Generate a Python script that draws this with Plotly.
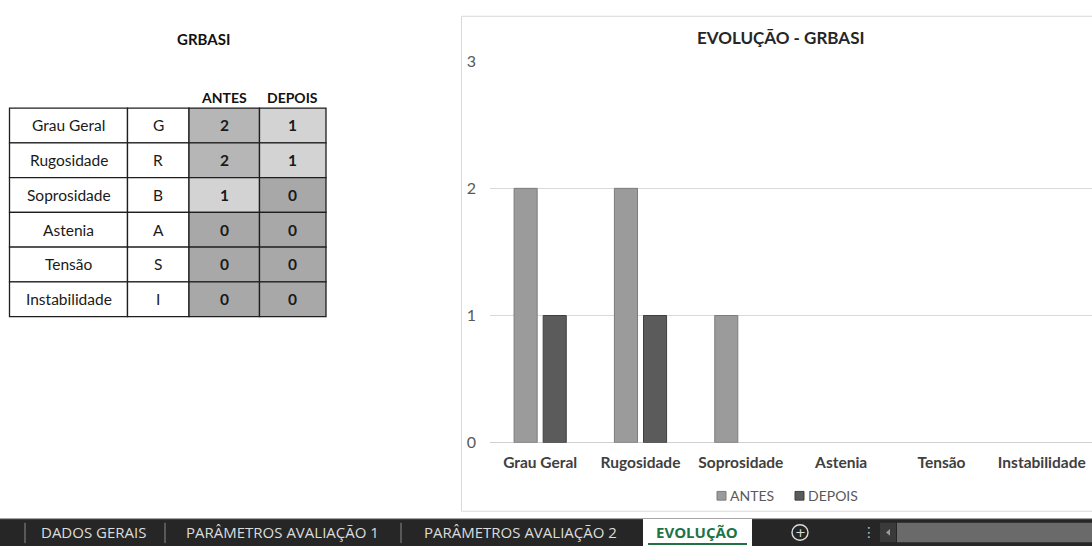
import plotly.graph_objects as go

W, H = 1092, 555

# ---- data ----
categories = ["Grau Geral", "Rugosidade", "Soprosidade", "Astenia", "Tensão", "Instabilidade"]
codes = ["G", "R", "B", "A", "S", "I"]
series_names = ["ANTES", "DEPOIS"]
antes = [2, 2, 1, 0, 0, 0]
depois = [1, 1, 0, 0, 0, 0]
y_ticks = [0, 1, 2, 3]
table_title = "GRBASI"
chart_title = "EVOLUÇÃO - GRBASI"
sheet_tabs = ["DADOS GERAIS", "PARÂMETROS AVALIAÇÃO 1", "PARÂMETROS AVALIAÇÃO 2", "EVOLUÇÃO"]
active_tab = "EVOLUÇÃO"

# ---- styling ----
FONT = "Lato"
TAB_FONT = "Open Sans"
bar_fill = ["#9b9b9b", "#5b5b5b"]
bar_edge = ["#7c7c7c", "#3f3f3f"]
bar_offset = [-0.26, 0.03]   # in category units, bars 0.23 wide with a small gap
bar_width = 0.23
value_fill = {2: "#b6b6b6", 1: "#d3d3d3", 0: "#a8a8a8"}


def px(x):
    return x / W


def py(y):
    return 1 - y / H


fig = go.Figure()

# ---- bar chart ----
for name, vals, fc, ec, off in zip(series_names, [antes, depois], bar_fill, bar_edge, bar_offset):
    fig.add_trace(go.Bar(
        x=categories, y=vals, name=name,
        width=bar_width, offset=off,
        marker=dict(color=fc, line=dict(color=ec, width=[1 if v else 0 for v in vals])),
        xaxis="x", yaxis="y", showlegend=False, hoverinfo="x+y+name",
    ))

# invisible helper trace so the table axes exist
fig.add_trace(go.Scatter(x=[0], y=[0], xaxis="x2", yaxis="y2", mode="markers",
                         marker=dict(opacity=0), showlegend=False, hoverinfo="skip"))

shapes = []
annotations = []

# chart frame
shapes.append(dict(type="rect", xref="paper", yref="paper",
                   x0=px(461.5), x1=1.02, y0=py(519), y1=py(6.5),
                   line=dict(color="#d9d9d9", width=1), fillcolor="rgba(0,0,0,0)", layer="below"))

annotations.append(dict(text="<b>%s</b>" % chart_title, xref="paper", yref="paper",
                        x=px(781), y=py(28), showarrow=False, xanchor="center", yanchor="middle",
                        font=dict(family=FONT, size=17, color="#262626")))

# legend drawn beside the bars
legend_x = [717, 795]
for name, fc, ec, lx in zip(series_names, bar_fill, bar_edge, legend_x):
    shapes.append(dict(type="rect", xref="paper", yref="paper",
                       x0=px(lx), x1=px(lx + 9), y0=py(507.5), y1=py(498.5),
                       fillcolor=fc, line=dict(color=ec, width=1)))
    annotations.append(dict(text=name, xref="paper", yref="paper", x=px(lx + 11), y=py(503),
                            showarrow=False, xanchor="left", yanchor="middle",
                            font=dict(family=FONT, size=14, color="#595959")))

# ---- table (x2/y2 axes run in pixel units, y downward) ----
col_edges = [9.5, 127.5, 189, 259.5, 326]
table_top = 101.5
row_h = 36

annotations.append(dict(text="<b>%s</b>" % table_title, xref="x2", yref="y2", x=203, y=30,
                        showarrow=False, font=dict(family=FONT, size=15, color="#111111")))
for j, name in enumerate(series_names):
    cx = (col_edges[j + 2] + col_edges[j + 3]) / 2
    annotations.append(dict(text="<b>%s</b>" % name, xref="x2", yref="y2", x=cx, y=91,
                            showarrow=False, font=dict(family=FONT, size=14, color="#111111")))

for i, (cat, code, a, d) in enumerate(zip(categories, codes, antes, depois)):
    y0 = table_top + i * row_h
    y1 = y0 + row_h
    cells = [(cat, "#ffffff", False), (code, "#ffffff", False),
             (str(a), value_fill[a], True), (str(d), value_fill[d], True)]
    for j, (txt, fill, bold) in enumerate(cells):
        x0, x1 = col_edges[j], col_edges[j + 1]
        shapes.append(dict(type="rect", xref="x2", yref="y2", x0=x0, x1=x1, y0=y0, y1=y1,
                           fillcolor=fill, line=dict(color="#1e1e1e", width=1.3), layer="below"))
        annotations.append(dict(text=("<b>%s</b>" % txt) if bold else txt, xref="x2", yref="y2",
                                x=(x0 + x1) / 2, y=(y0 + y1) / 2, showarrow=False,
                                xanchor="center", yanchor="middle",
                                font=dict(family=FONT, size=15.5, color="#1a1a1a")))

# ---- sheet tab bar ----
shapes.append(dict(type="rect", xref="paper", yref="paper", x0=0, x1=1, y0=0, y1=py(527),
                   fillcolor="#262626", line=dict(width=0), layer="above"))
shapes.append(dict(type="line", xref="paper", yref="paper", x0=0, x1=1, y0=py(527), y1=py(527),
                   line=dict(color="#5a5a5a", width=1), layer="above"))
tab_centers = [93.5, 282, 520, 697]
separators = [25, 165, 401]
for sx in separators:
    shapes.append(dict(type="line", xref="paper", yref="paper", x0=px(sx), x1=px(sx),
                       y0=py(552), y1=py(531), line=dict(color="#8a8a8a", width=1), layer="above"))
# active tab
shapes.append(dict(type="rect", xref="paper", yref="paper", x0=px(643), x1=px(752),
                   y0=0, y1=py(527), fillcolor="#ffffff", line=dict(width=0), layer="above"))
shapes.append(dict(type="line", xref="paper", yref="paper", x0=px(648), x1=px(747),
                   y0=py(553), y1=py(553), line=dict(color="#217346", width=2), layer="above"))
for name, cx in zip(sheet_tabs, tab_centers):
    is_active = name == active_tab
    annotations.append(dict(text=("<b>%s</b>" % name) if is_active else name,
                            xref="paper", yref="paper", x=px(cx), y=py(541), showarrow=False,
                            xanchor="center", yanchor="middle",
                            font=dict(family=TAB_FONT, size=15,
                                      color="#217346" if is_active else "#dcdcdc")))
# new-sheet button, menu dots and scroll bar
shapes.append(dict(type="circle", xref="paper", yref="paper", x0=px(792), x1=px(808),
                   y0=py(549), y1=py(533), line=dict(color="#dcdcdc", width=1.4), layer="above"))
annotations.append(dict(text="+", xref="paper", yref="paper", x=px(800), y=py(541), showarrow=False,
                        xanchor="center", yanchor="middle",
                        font=dict(family="DejaVu Sans", size=13, color="#dcdcdc")))
annotations.append(dict(text="⋮", xref="paper", yref="paper", x=px(869), y=py(541), showarrow=False,
                        xanchor="center", yanchor="middle",
                        font=dict(family="DejaVu Sans", size=14, color="#bdbdbd")))
shapes.append(dict(type="rect", xref="paper", yref="paper", x0=px(880), x1=px(896),
                   y0=py(551), y1=py(531), fillcolor="#3a3a3a", line=dict(width=0), layer="above"))
shapes.append(dict(type="path", xref="paper", yref="paper",
                   path="M %f,%f L %f,%f L %f,%f Z" % (px(886), py(541), px(890), py(537.5), px(890), py(544.5)),
                   fillcolor="#9a9a9a", line=dict(width=0), layer="above"))
shapes.append(dict(type="rect", xref="paper", yref="paper", x0=px(897), x1=1,
                   y0=py(551), y1=py(531), fillcolor="#6a6a6a", line=dict(width=0), layer="above"))

fig.update_layout(
    width=W, height=H, autosize=False,
    margin=dict(l=0, r=0, t=0, b=0),
    paper_bgcolor="#ffffff", plot_bgcolor="rgba(0,0,0,0)",
    font=dict(family=FONT),
    barmode="group",
    xaxis=dict(domain=[px(490), 1], anchor="y", showgrid=False, showline=False, zeroline=False,
               ticks="", ticklabelstandoff=9, fixedrange=True,
               tickfont=dict(family=FONT, size=15.5, color="#404040", weight="bold")),
    yaxis=dict(domain=[py(448), py(53)], anchor="x", range=[0, 3], tickvals=y_ticks,
               showgrid=True, gridcolor="#d9d9d9", gridwidth=1,
               zeroline=True, zerolinecolor="#d0d0d0", zerolinewidth=1,
               showline=False, ticks="", ticklabelstandoff=13, fixedrange=True,
               tickfont=dict(family=FONT, size=16, color="#595959")),
    xaxis2=dict(domain=[0, px(400)], anchor="y2", range=[0, 400], visible=False, fixedrange=True),
    yaxis2=dict(domain=[0, 1], anchor="x2", range=[H, 0], visible=False, fixedrange=True),
    shapes=shapes,
    annotations=annotations,
    showlegend=False,
)

fig.write_html("out.html")
